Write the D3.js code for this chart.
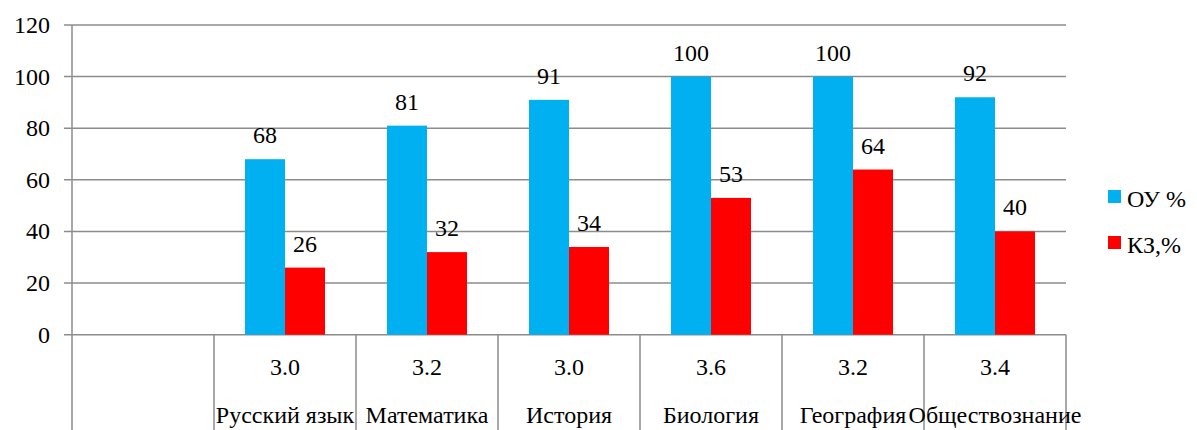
<!DOCTYPE html>
<html>
<head>
<meta charset="utf-8">
<script src="https://cdn.jsdelivr.net/npm/d3@7"></script>
<style>
  html, body { margin: 0; padding: 0; background: #fff; }
  svg { display: block; }
  svg text { font-family: "Liberation Serif" !important; }
</style>
</head>
<body>
<svg id="chart" width="1197" height="430"></svg>
<script>
// ---- data ----
const categories = ["", "Русский язык", "Математика", "История", "Биология", "География", "Обществознание"];
const subLabels = ["", "3.0", "3.2", "3.0", "3.6", "3.2", "3.4"];
const seriesNames = ["ОУ %", "КЗ,%"];
const seriesOU = [null, 68, 81, 91, 100, 100, 92];
const seriesKZ = [null, 26, 32, 34, 53, 64, 40];
const yTicks = [0, 20, 40, 60, 80, 100, 120];
const colors = ["#00B0F0", "#FF0000"];

const svg = d3.select("#chart");
const pLeft = 72, pRight = 1066, pTop = 25, pBottom = 334.7;
const gridColor = "#8c8c8c";

const x = d3.scaleBand().domain(d3.range(categories.length)).range([pLeft, pRight]).padding(0);
const bw = 40;
const xs = d3.scaleBand().domain([0, 1])
  .range([(x.bandwidth() - 2 * bw) / 2, (x.bandwidth() + 2 * bw) / 2]).padding(0);
const y = d3.scaleLinear().domain([0, 120]).range([pBottom, pTop]);

function txt(sel) {
  return sel.attr("font-family", "Liberation Serif")
    .style("font-family", '"Liberation Serif"', "important")
    .attr("fill", "#000").attr("font-size", 24);
}

// gridlines + tick labels
const g = svg.append("g");
g.selectAll("line.grid").data(yTicks).join("line")
  .attr("x1", pLeft - 8).attr("x2", pRight)
  .attr("y1", d => y(d)).attr("y2", d => y(d))
  .attr("stroke", gridColor).attr("stroke-width", 1.5);
txt(g.selectAll("text.tick").data(yTicks).join("text"))
  .attr("x", 50).attr("y", d => y(d) + 8)
  .attr("text-anchor", "end").text(d => d);

// left axis line
svg.append("line").attr("x1", pLeft).attr("x2", pLeft).attr("y1", pTop).attr("y2", 430)
  .attr("stroke", gridColor).attr("stroke-width", 1.5);

// category separators
const seps = d3.range(1, categories.length + 1).map(i => i < categories.length ? x(i) : pRight);
svg.selectAll("line.sep").data(seps).join("line")
  .attr("x1", d => d).attr("x2", d => d).attr("y1", pBottom).attr("y2", 430)
  .attr("stroke", gridColor).attr("stroke-width", 1.5);

// bars
const series = [seriesOU, seriesKZ];
series.forEach((vals, si) => {
  const data = vals.map((v, i) => ({ i, v })).filter(d => d.v != null);
  svg.selectAll("rect.s" + si).data(data).join("rect")
    .attr("x", d => x(d.i) + xs(si)).attr("width", xs.bandwidth())
    .attr("y", d => y(d.v)).attr("height", d => y(0) - y(d.v))
    .attr("fill", colors[si]);
  txt(svg.selectAll("text.l" + si).data(data).join("text"))
    .attr("x", d => x(d.i) + xs(si) + xs.bandwidth() / 2)
    .attr("y", d => y(d.v) - 16)
    .attr("text-anchor", "middle").text(d => d.v);
});

// category labels
txt(svg.selectAll("text.sub").data(subLabels).join("text"))
  .attr("x", (d, i) => x(i) + x.bandwidth() / 2).attr("y", 375)
  .attr("text-anchor", "middle").text(d => d);
txt(svg.selectAll("text.cat").data(categories).join("text"))
  .attr("x", (d, i) => x(i) + x.bandwidth() / 2).attr("y", 423)
  .attr("text-anchor", "middle").text(d => d);

// legend
const lg = svg.append("g");
seriesNames.forEach((n, i) => {
  const yy = 190 + i * 46;
  lg.append("rect").attr("x", 1108).attr("y", yy).attr("width", 13).attr("height", 13).attr("fill", colors[i]);
  txt(lg.append("text")).attr("x", 1127).attr("y", yy + 17).text(n);
});
</script>
</body>
</html>
